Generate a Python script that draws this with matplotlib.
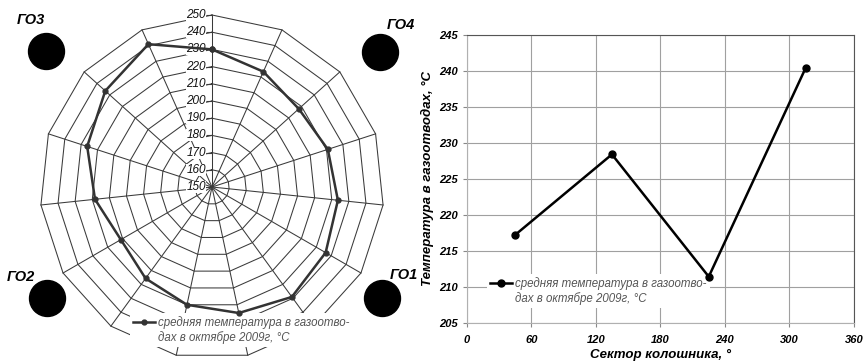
import matplotlib
matplotlib.use('Agg')
import matplotlib.pyplot as plt
from matplotlib.lines import Line2D
import numpy as np

plt.rcParams['font.family'] = ['Liberation Sans', 'DejaVu Sans']

# radar: mean temperature per sector of the furnace top (15 sectors, clockwise from top)
radar_values = [230.0, 223.4, 217.9, 220.8, 223.6, 226.3, 229.0, 224.9,
                220.0, 215.7, 211.2, 218.4, 226.3, 233.5, 240.9]
ring_levels = list(range(150, 251, 10))

# line chart: gas offtakes
sectors = [45, 135, 225, 315]
sector_temps = [217.2, 228.4, 211.4, 240.4]
x_ticks = list(range(0, 361, 60))
y_ticks = list(range(205, 246, 5))

offtake_names = ['ГО3', 'ГО4', 'ГО2', 'ГО1']
legend_lines = ['средняя температура в газоотво-', 'дах в октябре 2009г, °С']

W, H = 864, 362
fig = plt.figure(figsize=(W / 100, H / 100), dpi=100)


def add_legend(ax, line, x0, y0):
    # two-row legend so the marker sits on the first text line
    blank = Line2D([], [], color='none')
    leg = ax.legend([line, blank], legend_lines, loc='upper left',
                    bbox_to_anchor=(x0 / W, 1 - y0 / H), bbox_transform=fig.transFigure,
                    frameon=True, fancybox=False, edgecolor='none', facecolor='white',
                    framealpha=1, prop={'size': 8.3, 'style': 'italic'},
                    labelcolor='#555555', handlelength=1.9, handletextpad=0.3,
                    borderpad=0.25, borderaxespad=0, labelspacing=0.2)
    leg.set_zorder(2.5)
    return leg


# ---- radar chart ----
ax = fig.add_axes([40 / W, 3 / H, 344 / W, 344 / H], projection='polar')
ax.set_theta_zero_location('N')
ax.set_theta_direction(-1)
ax.set_ylim(ring_levels[0], ring_levels[-1])
ax.grid(False)
ax.set_xticks([])
ax.set_yticks([])
ax.spines['polar'].set_visible(False)
ax.patch.set_visible(False)

n = len(radar_values)
theta = np.arange(n) * 2 * np.pi / n
closed = np.append(theta, theta[0])
grid_col = '#3a3a3a'
for lev in ring_levels[1:]:
    ax.plot(closed, [lev] * (n + 1), color=grid_col, lw=0.75, clip_on=False, zorder=1)
for t in theta:
    ax.plot([t, t], [ring_levels[0], ring_levels[-1]], color=grid_col, lw=0.75,
            clip_on=False, zorder=1)

for lev in ring_levels:
    ax.plot(0, lev, marker=0, ms=4, color=grid_col, mew=0.8, clip_on=False, zorder=2)
    ax.annotate(str(lev), (0, lev), xytext=(-4.5, 0), textcoords='offset points',
                ha='right', va='center', fontsize=8.5, style='italic', color='#111',
                bbox=dict(facecolor='white', edgecolor='none', pad=0), zorder=3)

radar_line, = ax.plot(closed, np.append(radar_values, radar_values[0]),
                      color='#333333', lw=1.8, marker='o', ms=3.5, clip_on=False,
                      zorder=4)
add_legend(ax, radar_line, 130, 313)

# ---- line chart ----
ax2 = fig.add_axes([466.7 / W, 39.3 / H, 387.3 / W, 287.7 / H])
line2, = ax2.plot(sectors, sector_temps, color='black', lw=1.8, marker='o', ms=5,
                  zorder=3)
ax2.set_xlim(0, 360)
ax2.set_ylim(205, 245)
ax2.set_xticks(x_ticks)
ax2.set_yticks(y_ticks)
ax2.grid(True, color='#a0a0a0', lw=0.8)
for s in ['top', 'right']:
    ax2.spines[s].set_color('#555555')
for s in ['left', 'bottom']:
    ax2.spines[s].set_color('#b0b0b0')
ax2.tick_params(axis='both', length=3, color='#888888', labelsize=8)
ax2.tick_params(axis='x', pad=5.5)
ax2.tick_params(axis='y', pad=3.4)
for lab in ax2.get_xticklabels() + ax2.get_yticklabels():
    lab.set_fontweight('bold')
    lab.set_fontstyle('italic')

ax2.set_ylabel('Температура в газоотводах, °С', fontsize=9.5, fontweight='bold',
               style='italic')
ax2.yaxis.set_label_coords(-0.084, 0.5)
ax2.set_xlabel('Сектор колошника, °', fontsize=9.5, fontweight='bold', style='italic')
ax2.xaxis.set_label_coords(0.5, -0.112)
ax2.xaxis.label.set_va('center')

add_legend(ax2, line2, 487, 274)

# ---- gas offtake markers around the radar ----
ov = fig.add_axes([0, 0, 1, 1])
ov.set_xlim(0, W)
ov.set_ylim(H, 0)
ov.axis('off')
circle_xy = [(46, 51), (380, 52), (47, 298), (382, 298)]
label_xy = [(31, 20), (401, 25), (21, 277), (404, 275)]
ov.scatter([p[0] for p in circle_xy], [p[1] for p in circle_xy], s=670, color='black')
for name, (lx, ly) in zip(offtake_names, label_xy):
    ov.text(lx, ly, name, ha='center', va='center', fontsize=10.5, fontweight='bold',
            style='italic')

fig.savefig('out.png', dpi=100)
